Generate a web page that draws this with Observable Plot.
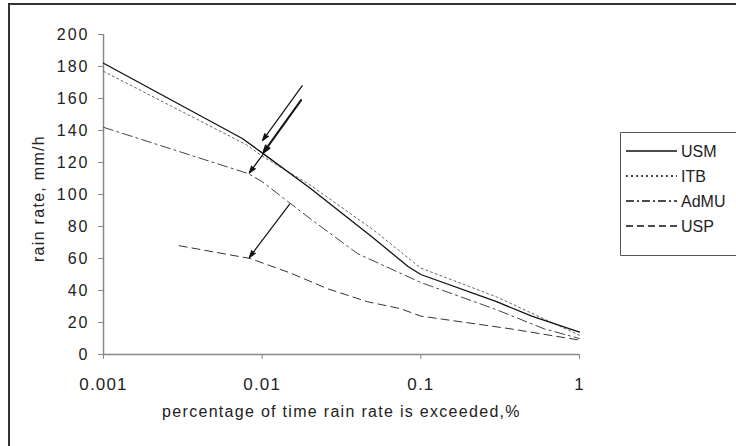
<!DOCTYPE html>
<html>
<head>
<meta charset="utf-8">
<script src="https://cdn.jsdelivr.net/npm/d3@7"></script>
<script src="https://cdn.jsdelivr.net/npm/@observablehq/plot@0.6"></script>
<style>
  html, body { margin: 0; padding: 0; background: #fff; overflow: hidden; }
  body { width: 736px; height: 446px; position: relative; font-family: "Liberation Sans", Arial, sans-serif; }
  #frame { position: absolute; left: 8px; top: 3px; width: 728px; height: 443px; border-left: 2px solid #333; border-top: 2px solid #333; box-sizing: border-box; }
  #chart { position: absolute; left: 0; top: 0; width: 736px; height: 446px; overflow: hidden; }
  #legend { position: absolute; left: 620px; top: 132px; width: 116px; height: 126px; overflow: hidden; }
  .chart g[aria-label="x-axis tick label"] text { letter-spacing: 1.2px; }
  .chart g[aria-label="y-axis tick label"] text { letter-spacing: 2px; }
</style>
</head>
<body>
<div id="frame"></div>
<div id="chart"></div>
<div id="legend"></div>
<script>
// ---- data ----
const seriesNames = ["USM", "ITB", "AdMU", "USP"];

const xUSM = [0.001, 0.0075, 0.01, 0.02, 0.05, 0.083, 0.1, 0.3, 0.5, 1];
const yUSM = [182, 135, 126, 104, 73, 55, 50, 33, 24, 14];

const xITB = [0.001, 0.008, 0.01, 0.02, 0.05, 0.1, 0.3, 1];
const yITB = [177, 131, 124, 106, 78, 54, 36, 12];

const xAdMU = [0.001, 0.0082, 0.01, 0.02, 0.04, 0.1, 0.3, 0.6, 1];
const yAdMU = [142, 113, 108, 85, 63, 45, 28, 16, 10];

const xUSP = [0.003, 0.0084, 0.015, 0.026, 0.046, 0.074, 0.1, 0.37, 1];
const yUSP = [68, 60, 51, 41, 33, 28.7, 24, 16, 9];

const xTicks = [0.001, 0.01, 0.1, 1];
const yTicks = [0, 20, 40, 60, 80, 100, 120, 140, 160, 180, 200];

const xTitle = "percentage of time rain rate is exceeded,%";
const yTitle = "rain rate, mm/h";

// annotation arrows (data coordinates): start x, start y, end x, end y
const arrowX1 = [0.0179, 0.0176, 0.0102, 0.0149];
const arrowY1 = [168, 159, 125.6, 94];
const arrowX2 = [0.01005, 0.0102, 0.0083, 0.0083];
const arrowY2 = [133.7, 126.3, 113.4, 60.6];
const arrowW  = [1.2, 2, 1.2, 1.2];

// ---- build tables ----
const zip = (xs, ys, name) => xs.map((x, i) => ({x, y: ys[i], name}));
const usm = zip(xUSM, yUSM, "USM");
const itb = zip(xITB, yITB, "ITB");
const admu = zip(xAdMU, yAdMU, "AdMU");
const usp = zip(xUSP, yUSP, "USP");
const arrows = arrowX1.map((x1, i) => ({x1, y1: arrowY1[i], x2: arrowX2[i], y2: arrowY2[i], w: arrowW[i]}));

const styles = {
  USM:  {stroke: "#111", strokeWidth: 1.3, dash: null},
  ITB:  {stroke: "#666", strokeWidth: 1, dash: "2,3"},
  AdMU: {stroke: "#444", strokeWidth: 1, dash: "10,4,2,4"},
  USP:  {stroke: "#333", strokeWidth: 1, dash: "8,5"}
};
const lineMark = (data, name) => Plot.line(data, {
  x: "x", y: "y",
  stroke: styles[name].stroke,
  strokeWidth: styles[name].strokeWidth,
  strokeDasharray: styles[name].dash
});

const chart = Plot.plot({
  className: "chart",
  width: 736,
  height: 446,
  marginLeft: 103,
  marginRight: 157,
  marginTop: 34,
  marginBottom: 92,
  x: {type: "log", domain: [0.001, 1]},
  y: {domain: [0, 200]},
  style: {fontFamily: "'Liberation Sans', Arial, sans-serif", fontSize: "16px", background: "transparent", color: "#222", border: "none", outline: "none"},
  marks: [
    Plot.axisY({ticks: yTicks, tickSize: 5, tickPadding: 9, stroke: "#888", fill: "#222", label: null, fontSize: 16}),
    Plot.axisX({ticks: xTicks, tickSize: 5, tickPadding: 18, tickFormat: d => String(d), stroke: "#888", fill: "#222", label: null, fontSize: 17}),
    Plot.ruleX([0.001], {stroke: "#888", strokeWidth: 1.5}),
    Plot.ruleY([0], {stroke: "#888", strokeWidth: 1.5}),
    lineMark(usp, "USP"),
    lineMark(admu, "AdMU"),
    lineMark(itb, "ITB"),
    lineMark(usm, "USM"),
    Plot.arrow(arrows, {x1: "x1", y1: "y1", x2: "x2", y2: "y2", stroke: "#111", strokeWidth: "w", headLength: 11, headAngle: 36}),
    Plot.text([xTitle], {frameAnchor: "bottom", dy: 62, fontSize: 16, fill: "#222", text: d => d}),
    Plot.text([yTitle], {frameAnchor: "left", dx: -65, dy: 4, rotate: -90, textAnchor: "middle", fontSize: 16, fill: "#222", text: d => d})
  ]
});
document.getElementById("chart").appendChild(chart);

// fill the arrow heads
chart.querySelectorAll('g[aria-label="arrow"] path').forEach(p => {
  const nums = (p.getAttribute("d").match(/-?\d+(\.\d+)?(e-?\d+)?/g) || []).map(Number);
  if (nums.length >= 6) {
    const n = nums.length;
    const pts = [[nums[n-6], nums[n-5]], [nums[n-4], nums[n-3]], [nums[n-2], nums[n-1]]];
    const head = document.createElementNS("http://www.w3.org/2000/svg", "path");
    head.setAttribute("d", `M${pts[0]}L${pts[1]}L${pts[2]}Z`);
    head.setAttribute("fill", "#111");
    head.setAttribute("stroke", "none");
    p.parentNode.appendChild(head);
  }
});
// letter spacing of the axis titles
chart.querySelectorAll('g[aria-label="text"] text').forEach(t => t.setAttribute("letter-spacing", "1.3"));

// ---- legend ----
const lg = d3.select("#legend").append("svg").attr("width", 140).attr("height", 126).style("display", "block");
lg.append("path").attr("d", "M140,0.5H0.5V123.5H140")
  .attr("fill", "#fff").attr("stroke", "#555").attr("stroke-width", 1);
const legendDash = {USM: null, ITB: "2,3", AdMU: "8,3,2,3", USP: "7,4"};
seriesNames.forEach((name, i) => {
  const y = 19 + i * 25;
  lg.append("line").attr("x1", 6).attr("x2", 57).attr("y1", y).attr("y2", y)
    .attr("stroke", "#111").attr("stroke-width", 1.3)
    .attr("stroke-dasharray", legendDash[name]);
  lg.append("text").attr("x", 61).attr("y", y).attr("dy", "0.36em")
    .attr("font-size", 16).attr("fill", "#222").attr("font-family", "'Liberation Sans', Arial, sans-serif")
    .text(name);
});
</script>
</body>
</html>
